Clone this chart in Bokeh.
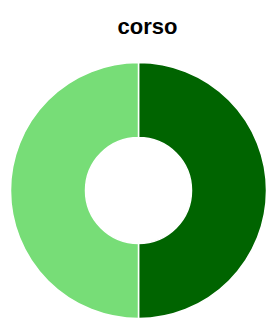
import math
from bokeh.plotting import figure
from bokeh.models import Range1d, ColumnDataSource
from bokeh.core.properties import value
from bokeh.embed import file_html
from bokeh.resources import INLINE

title_text = "corso"
categories = ["A", "B"]
values = [50, 50]
colors = ["#006400", "#77dd77"]

W, H = 266, 318
p = figure(width=W, height=H, output_backend="svg", toolbar_location=None,
           x_range=Range1d(0, W), y_range=Range1d(0, H),
           min_border=0, min_border_left=0, min_border_right=0,
           min_border_top=0, min_border_bottom=0)
p.axis.visible = False
p.xgrid.visible = False
p.ygrid.visible = False
p.outline_line_color = None
p.background_fill_color = "white"
p.border_fill_color = "white"

total = sum(values)
starts, ends = [], []
acc = 0.0
for v in values:
    a0 = math.pi / 2 - 2 * math.pi * acc / total
    acc += v
    a1 = math.pi / 2 - 2 * math.pi * acc / total
    starts.append(a0)
    ends.append(a1)

src = ColumnDataSource(dict(cat=categories, val=values, color=colors,
                            start=starts, end=ends))
cx, cy = 138, 128
p.annular_wedge(x=cx, y=cy, inner_radius=53, outer_radius=128,
                start_angle="start", end_angle="end", direction="clock",
                fill_color="color", line_color="white", line_width=1.5,
                source=src)

p.text(x=[147], y=[292], text=[title_text], text_font=value("Liberation Sans"),
       text_font_size="22px", text_font_style="bold", text_color="#000000",
       text_align="center", text_baseline="alphabetic")

open("out.html", "w").write(file_html(p, INLINE))
